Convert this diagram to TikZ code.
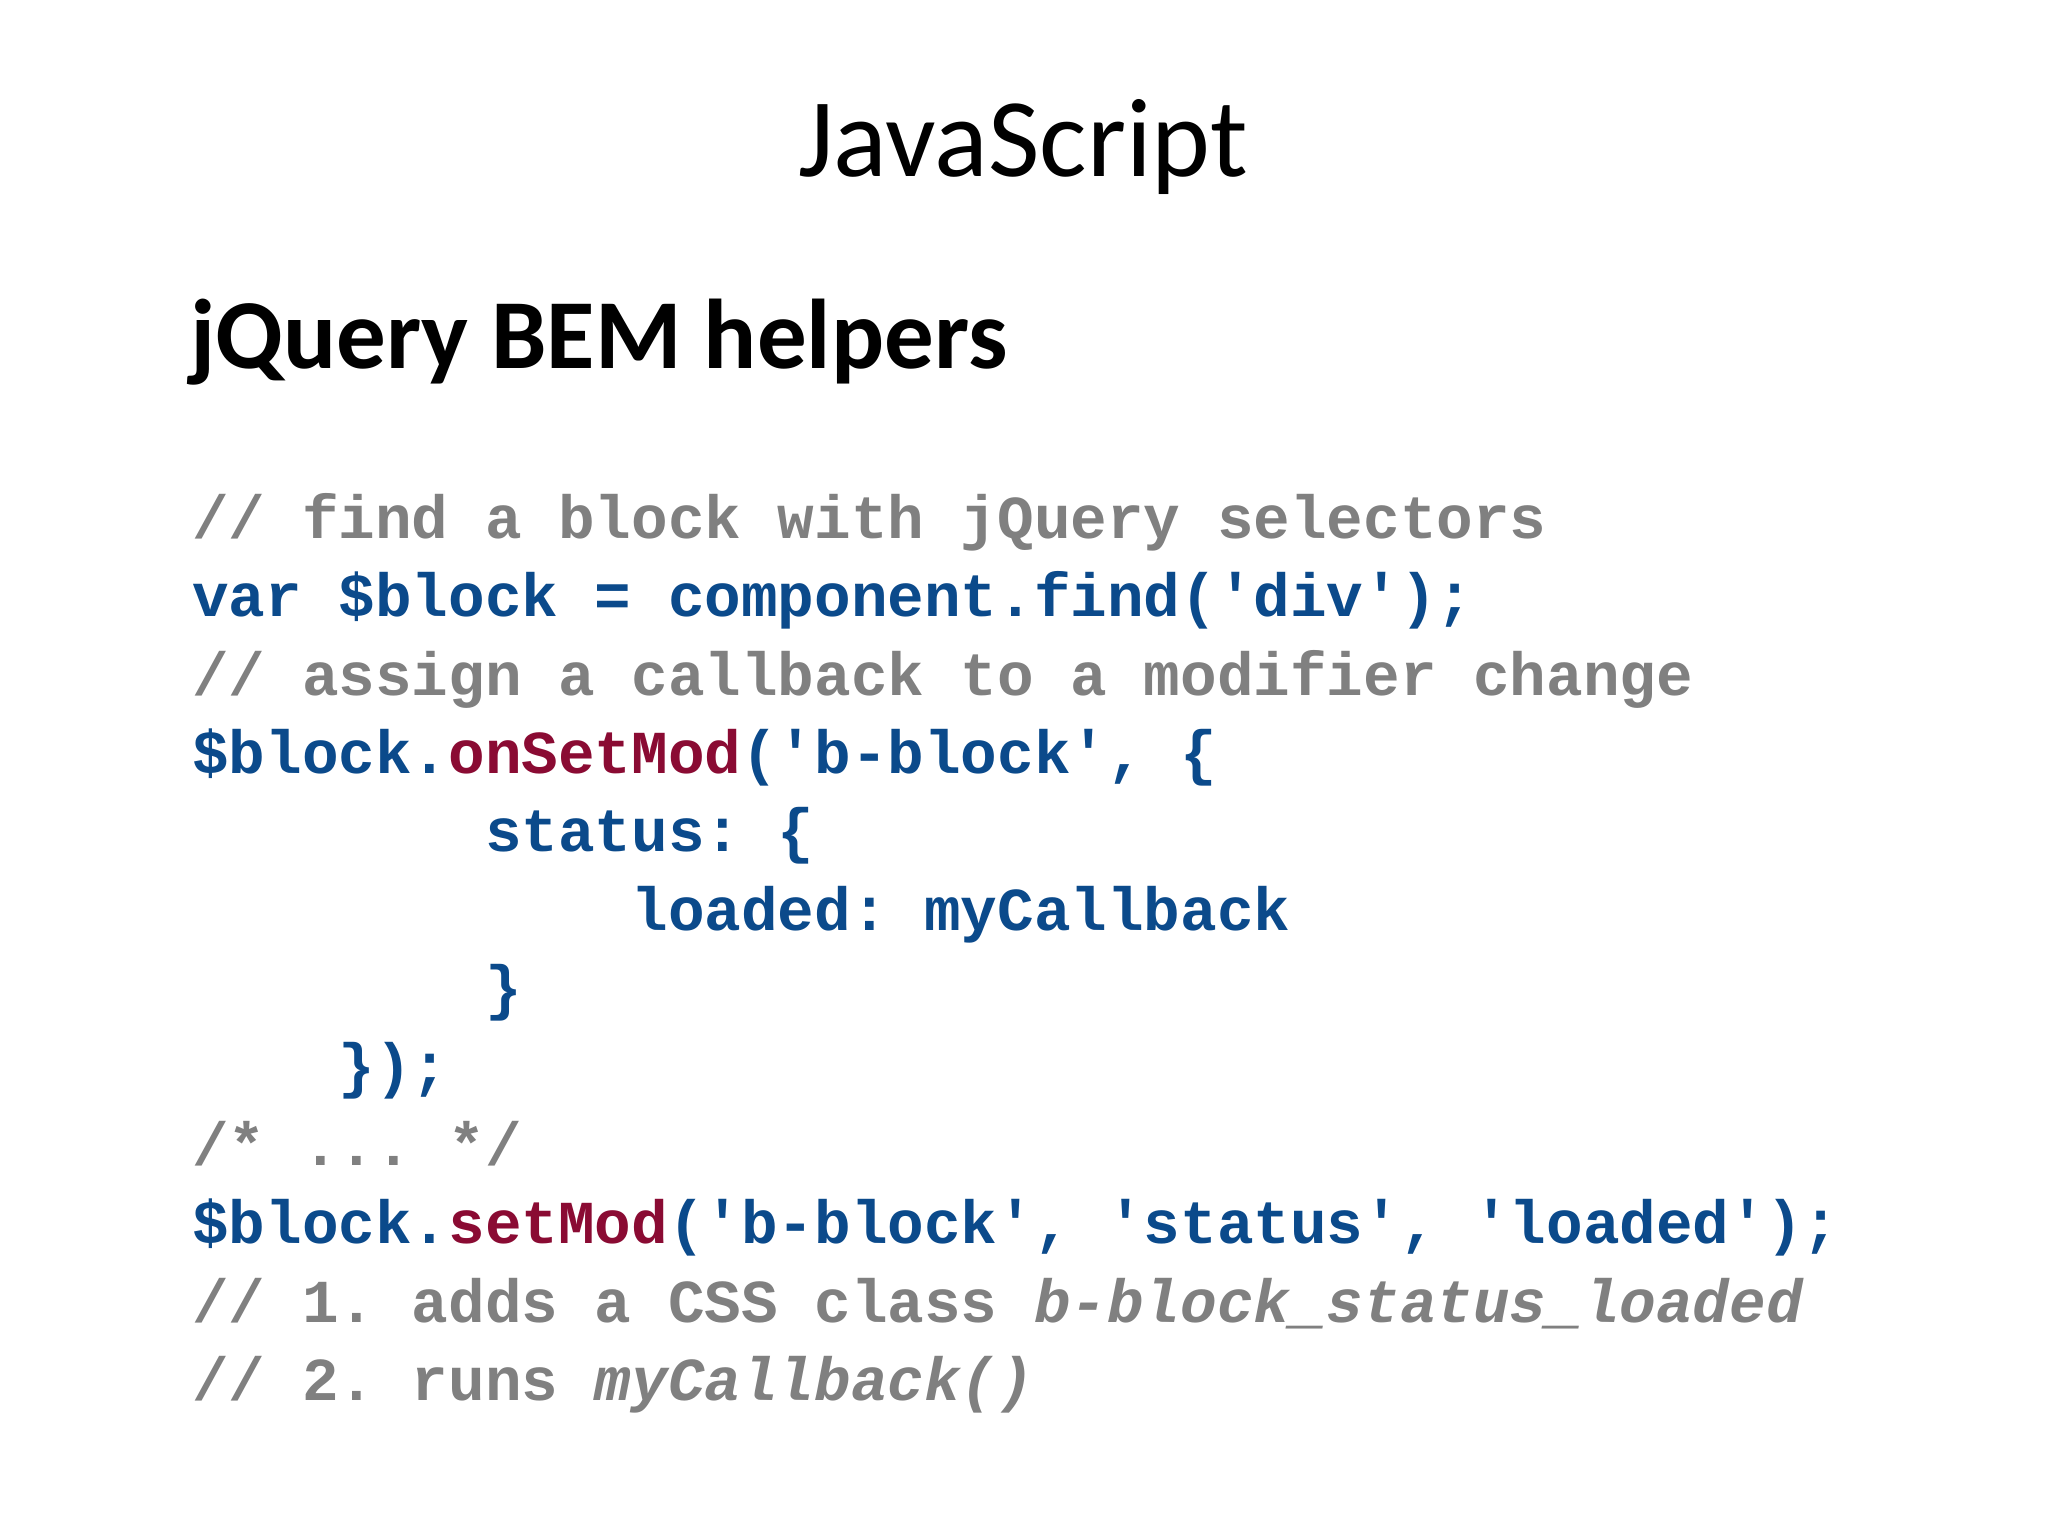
\documentclass[tikz,border=0pt]{standalone}
\usepackage{fontspec}
\setmainfont{Carlito}
\setmonofont{Liberation Mono}
\definecolor{cblue}{HTML}{0B4A8B}
\definecolor{cred}{HTML}{8A0B33}
\definecolor{cgray}{HTML}{808080}
\newcommand{\kred}[1]{\textcolor{cred}{#1}}
\newcommand{\ind}[1]{\hspace*{#1\fontcharwd\font`0}}
\begin{document}
\begin{tikzpicture}[x=1pt,y=-1pt,
  code/.style={anchor=base west,inner sep=0,font=\ttfamily\bfseries\fontsize{61}{61}\selectfont},
  cmt/.style={code,text=cgray}]
\useasboundingbox[fill=white] (0,0) rectangle (2048,1535);
\node[anchor=base,inner sep=0,font=\fontsize{112}{112}\selectfont] (title) at (1023,176) {JavaScript};
\node[anchor=base west,inner sep=0,font=\bfseries\fontsize{99}{99}\selectfont] (sub) at (190,368) {jQuery BEM helpers};
\node[cmt] (l1) at (192,538) {// find a block with jQuery selectors};
\node[code,text=cblue] (l2) at (192,616) {var \$block = component.find('div');};
\node[cmt] (l3) at (192,695) {// assign a callback to a modifier change};
\node[code,text=cblue] (l4) at (192,773) {\$block.\kred{onSetMod}('b-block', \{};
\node[code,text=cblue] (l5) at (192,851) {\ind{8}status: \{};
\node[code,text=cblue] (l6) at (192,930) {\ind{12}loaded: myCallback};
\node[code,text=cblue] (l7) at (192,1008) {\ind{8}\}};
\node[code,text=cblue] (l8) at (192,1086) {\ind{4}\});};
\node[cmt] (l9) at (192,1165) {/* ... */};
\node[code,text=cblue] (l10) at (192,1243) {\$block.\kred{setMod}('b-block', 'status', 'loaded');};
\node[cmt] (l11) at (192,1322) {// 1. adds a CSS class \textit{b-block\_status\_loaded}};
\node[cmt] (l12) at (192,1400) {// 2. runs \textit{myCallback()}};
\end{tikzpicture}
\end{document}
